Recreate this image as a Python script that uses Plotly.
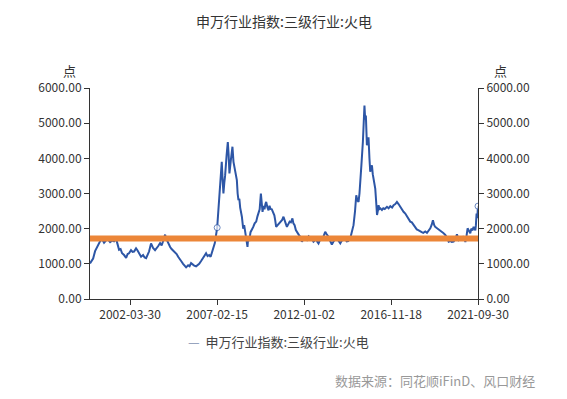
import plotly.graph_objects as go

# ---------------- data ----------------
dates = [
    "1999-12-30", "2000-03-03", "2000-04-12", "2000-06-12", "2000-07-23", "2000-09-03", "2000-10-13",
    "2000-11-24", "2001-01-04", "2001-02-14", "2001-03-25", "2001-05-05", "2001-06-16", "2001-07-16",
    "2001-08-16", "2001-09-16", "2001-10-17", "2001-11-27", "2002-01-08", "2002-02-08", "2002-03-08",
    "2002-04-18", "2002-05-19", "2002-06-19", "2002-07-30", "2002-08-30", "2002-09-30", "2002-11-10",
    "2002-12-21", "2003-01-21", "2003-02-21", "2003-03-22", "2003-04-22", "2003-06-02", "2003-07-13",
    "2003-08-23", "2003-09-23", "2003-10-24", "2003-12-04", "2004-01-05", "2004-02-05", "2004-03-16",
    "2004-04-06", "2004-04-26", "2004-05-27", "2004-06-27", "2004-07-27", "2004-08-27", "2004-10-07",
    "2004-11-07", "2004-12-08", "2005-01-18", "2005-02-18", "2005-03-19", "2005-04-19", "2005-05-20",
    "2005-06-30", "2005-07-30", "2005-08-30", "2005-10-01", "2005-11-01", "2005-12-11", "2006-01-11",
    "2006-02-12", "2006-03-23", "2006-05-03", "2006-06-03", "2006-07-03", "2006-08-03", "2006-09-04",
    "2006-10-04", "2006-11-04", "2006-12-05", "2006-12-29", "2007-02-15", "2007-03-06", "2007-03-26",
    "2007-04-16", "2007-05-06", "2007-05-20", "2007-06-06", "2007-06-23", "2007-07-11", "2007-07-27",
    "2007-08-28", "2007-09-21", "2007-10-08", "2007-10-24", "2007-11-18", "2007-12-25", "2008-01-15",
    "2008-02-08", "2008-02-28", "2008-03-24", "2008-04-09", "2008-04-26", "2008-05-14", "2008-05-31",
    "2008-07-05", "2008-08-01", "2008-08-21", "2008-09-11", "2008-10-05", "2008-10-28", "2008-11-11",
    "2008-12-02", "2008-12-29", "2009-01-27", "2009-02-23", "2009-03-24", "2009-04-24", "2009-05-20",
    "2009-06-10", "2009-07-04", "2009-07-29", "2009-08-14", "2009-09-01", "2009-09-21", "2009-10-11",
    "2009-10-30", "2009-11-15", "2009-12-10", "2010-01-02", "2010-01-22", "2010-02-12", "2010-03-10",
    "2010-04-06", "2010-05-01", "2010-05-17", "2010-06-07", "2010-07-07", "2010-08-07", "2010-09-08",
    "2010-10-08", "2010-11-04", "2010-11-28", "2010-12-19", "2011-01-13", "2011-02-09", "2011-03-10",
    "2011-04-05", "2011-05-06", "2011-05-26", "2011-06-20", "2011-07-15", "2011-08-11", "2011-09-11",
    "2011-10-12", "2011-11-16", "2011-12-22", "2012-01-23", "2012-02-27", "2012-04-03", "2012-05-04",
    "2012-06-10", "2012-07-10", "2012-08-10", "2012-09-04", "2012-09-29", "2012-10-21", "2012-11-21",
    "2012-12-16", "2013-01-16", "2013-02-12", "2013-03-07", "2013-04-07", "2013-05-13", "2013-06-18",
    "2013-07-22", "2013-08-18", "2013-09-18", "2013-11-03", "2013-12-05", "2014-01-10", "2014-02-10",
    "2014-03-10", "2014-04-21", "2014-05-21", "2014-06-21", "2014-08-01", "2014-09-08", "2014-10-08",
    "2014-11-08", "2014-12-03", "2014-12-28", "2015-01-19", "2015-02-07", "2015-02-23", "2015-03-18",
    "2015-04-18", "2015-05-04", "2015-05-20", "2015-06-04", "2015-06-18", "2015-07-09", "2015-07-25",
    "2015-08-11", "2015-08-30", "2015-09-15", "2015-10-06", "2015-10-20", "2015-11-06", "2015-11-22",
    "2015-12-10", "2015-12-27", "2016-01-13", "2016-02-01", "2016-02-17", "2016-03-04", "2016-03-22",
    "2016-04-08", "2016-05-12", "2016-06-08", "2016-07-09", "2016-08-23", "2016-09-25", "2016-10-30",
    "2016-12-06", "2017-01-06", "2017-02-10", "2017-03-15", "2017-04-17", "2017-05-22", "2017-06-26",
    "2017-07-28", "2017-09-02", "2017-10-03", "2017-11-03", "2017-12-13", "2018-01-14", "2018-02-14",
    "2018-03-25", "2018-04-25", "2018-05-25", "2018-07-05", "2018-08-05", "2018-09-05", "2018-10-16",
    "2018-11-20", "2018-12-23", "2019-01-27", "2019-02-27", "2019-03-22", "2019-04-18", "2019-05-08",
    "2019-06-08", "2019-07-09", "2019-08-19", "2019-09-19", "2019-10-20", "2019-11-30", "2020-01-04",
    "2020-02-07", "2020-03-11", "2020-04-11", "2020-05-18", "2020-06-22", "2020-07-26", "2020-08-29",
    "2020-10-03", "2020-11-03", "2020-12-10", "2020-12-30", "2021-01-14", "2021-02-08", "2021-03-01",
    "2021-03-25", "2021-04-25", "2021-05-15", "2021-06-09", "2021-07-02", "2021-07-22", "2021-08-06",
    "2021-08-18", "2021-09-01", "2021-09-15", "2021-09-30",
]

index_values = [
    1010, 1150, 1360, 1560, 1640, 1700, 1600,
    1670, 1690, 1620, 1660, 1640, 1710, 1560,
    1400, 1420, 1300, 1250, 1170, 1280, 1300,
    1390, 1340, 1350, 1440, 1380, 1300, 1200,
    1250, 1180, 1160, 1270, 1350, 1580, 1450,
    1390, 1440, 1500, 1590, 1520, 1650, 1830,
    1720, 1650, 1560, 1480, 1420, 1380, 1340,
    1280, 1200, 1100, 1060, 1000, 950, 900,
    960, 930, 1020, 980, 950, 930, 960,
    1000, 1080, 1160, 1240, 1300, 1220, 1250,
    1200, 1340, 1420, 1590, 2030, 2400, 2800,
    3190, 3600, 3900, 3400, 3000, 3300, 3500,
    4100, 4460, 4100, 3570, 3900, 4330, 3900,
    3700, 3600, 3380, 3000, 2810, 2850, 2600,
    2340, 2000, 2100, 1860, 1700, 1480, 1750,
    1650, 1900, 1960, 2050, 2150, 2200, 2350,
    2430, 2550, 3000, 2700, 2480, 2650, 2550,
    2700, 2760, 2600, 2520, 2650, 2560, 2550,
    2470, 2380, 2250, 2050, 2100, 2150, 2200,
    2250, 2340, 2200, 2150, 2050, 2120, 2200,
    2180, 2290, 2150, 2100, 1960, 1880, 1830,
    1770, 1630, 1720, 1690, 1675, 1780, 1750,
    1700, 1630, 1680, 1700, 1620, 1580, 1680,
    1750, 1720, 1850, 1910, 1840, 1770, 1650,
    1550, 1620, 1680, 1720, 1650, 1580, 1660,
    1680, 1700, 1640, 1650, 1720, 1900, 2100,
    2500, 2950, 2800, 2760, 3000, 3240, 3800,
    4470, 5000, 5500, 5100, 5220, 4370, 4500,
    4600, 4000, 3620, 3750, 3800, 3550, 3430,
    3300, 3140, 2800, 2390, 2500, 2670, 2560,
    2580, 2530, 2580, 2560, 2620, 2580, 2640,
    2600, 2670, 2700, 2760, 2700, 2620, 2530,
    2480, 2430, 2350, 2280, 2200, 2180, 2120,
    2050, 1980, 1960, 1910, 1900, 1880, 1920,
    1880, 1950, 2010, 2120, 2240, 2100, 2050,
    2020, 1990, 1960, 1920, 1880, 1820, 1750,
    1630, 1650, 1620, 1630, 1700, 1840, 1680,
    1720, 1700, 1780, 1700, 1620, 1800, 2010,
    1950, 1870, 2000, 1950, 2050, 1980, 1950,
    2100, 2430, 2300, 2640,
]

reference_level = 1720          # the orange horizontal line
marked_dates = ["2007-02-15", "2021-09-30"]

tick_dates = ["2002-03-30", "2007-02-15", "2012-01-02", "2016-11-18", "2021-09-30"]
y_ticks = [0, 1000, 2000, 3000, 4000, 5000, 6000]

series_name = "申万行业指数:三级行业:火电"
title_text = "申万行业指数:三级行业:火电"
unit_text = "点"
source_text = "数据来源：同花顺iFinD、风口财经"

# ---------------- figure ----------------
# the page adds an 8px body margin, so the figure is drawn at (8, 8)
OFF = 8
PAGE_W, PAGE_H = 567, 399
W, H = PAGE_W - 2 * OFF, PAGE_H - 2 * OFF
PLOT_L, PLOT_R, PLOT_T, PLOT_B = 90, 478, 88, 299      # page-pixel plot box
ML, MT = PLOT_L - OFF, PLOT_T - OFF
MR, MB = W - (PLOT_R - OFF), H - (PLOT_B - OFF)
PW, PH = PLOT_R - PLOT_L, PLOT_B - PLOT_T

FONT = "Noto Sans CJK SC, Microsoft YaHei, sans-serif"
BLUE = "#2d56a6"
ORANGE = "#ec8638"
AXIS = "#333333"

marker_sizes = [6 if d in marked_dates else 0 for d in dates]

fig = go.Figure()
fig.add_trace(go.Scatter(
    x=dates, y=index_values, mode="lines+markers", name=series_name,
    line=dict(color=BLUE, width=2),
    marker=dict(size=marker_sizes, color="white", line=dict(color=BLUE, width=1)),
    showlegend=False,
))
fig.add_trace(go.Scatter(
    x=[dates[0], dates[-1]], y=[reference_level, reference_level], mode="lines",
    line=dict(color=ORANGE, width=6), showlegend=False, hoverinfo="skip",
))
# invisible trace to activate the right-hand axis
fig.add_trace(go.Scatter(x=[dates[0]], y=[None], yaxis="y2", showlegend=False, hoverinfo="skip"))


def px_x(px):
    return (px - PLOT_L) / PW


def px_y(py):
    return (PLOT_B - py) / PH


axis_common = dict(
    showgrid=False, zeroline=False, showline=True, linecolor=AXIS, linewidth=1,
    ticks="outside", ticklen=5, tickcolor=AXIS, tickwidth=1,
    tickfont=dict(family=FONT, size=12, color="#333333"),
)

fig.update_layout(
    width=W, height=H,
    margin=dict(l=ML, r=MR, t=MT, b=MB, autoexpand=False),
    paper_bgcolor="white", plot_bgcolor="white",
    font=dict(family=FONT, color="#333333"),
    showlegend=False,
    title=dict(text=title_text, x=0.5, xanchor="center", xref="paper",
               y=1 - (22 - OFF) / H, yanchor="middle", yref="container",
               font=dict(family=FONT, size=14, color="#333333")),
    xaxis=dict(type="date", range=[dates[0], dates[-1]],
               tickvals=tick_dates, ticktext=tick_dates, **axis_common),
    yaxis=dict(range=[0, 6000], tickvals=y_ticks, tickformat=".2f", **axis_common),
    yaxis2=dict(range=[0, 6000], tickvals=y_ticks, tickformat=".2f",
                overlaying="y", side="right", **axis_common),
    annotations=[
        dict(text=unit_text, xref="paper", yref="paper", x=px_x(69), y=px_y(70),
             showarrow=False, xanchor="center", yanchor="middle",
             font=dict(family=FONT, size=13, color="#333333")),
        dict(text=unit_text, xref="paper", yref="paper", x=px_x(500), y=px_y(70),
             showarrow=False, xanchor="center", yanchor="middle",
             font=dict(family=FONT, size=13, color="#333333")),
        dict(text='<span style="color:#8090b0">—</span>  ' + series_name,
             xref="paper", yref="paper", x=px_x(186), y=px_y(341),
             showarrow=False, xanchor="left", yanchor="middle",
             font=dict(family=FONT, size=13, color="#444444")),
        dict(text=source_text, xref="paper", yref="paper", x=px_x(536), y=px_y(390.5),
             showarrow=False, xanchor="right", yanchor="bottom", borderpad=0,
             font=dict(family=FONT, size=13, color="#999999")),
    ],
)

fig.write_html("out.html")
